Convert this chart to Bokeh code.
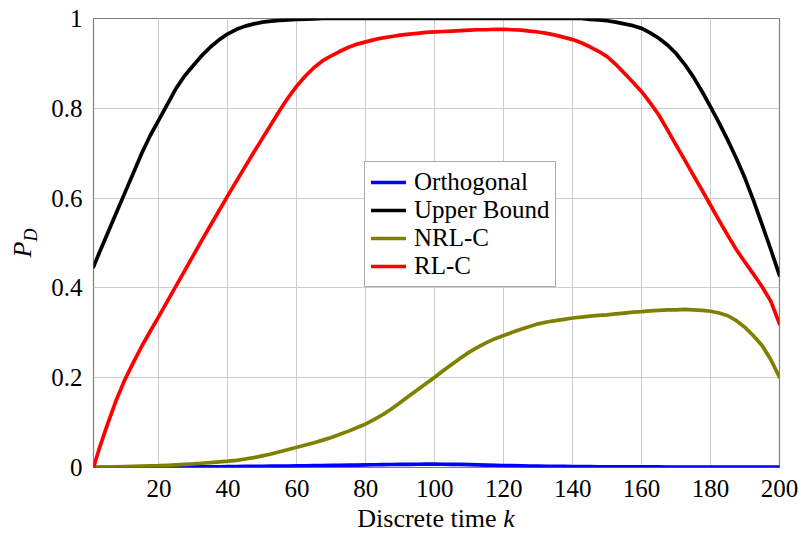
from bokeh.plotting import figure
from bokeh.models import FixedTicker, Range1d, Div
from bokeh.layouts import row, column
from bokeh.embed import file_html
from bokeh.resources import INLINE

# ---- data ----
k = [1, 2.5, 5, 7.5, 10, 12.5, 15, 17.5, 20,
     22.5, 25, 27.5, 30, 32.5, 35, 37.5, 40,
     42.5, 45, 47.5, 50, 52.5, 55, 57.5, 60,
     62.5, 65, 67.5, 70, 72.5, 75, 77.5, 80,
     82.5, 85, 87.5, 90, 92.5, 95, 97.5, 100,
     102.5, 105, 107.5, 110, 112.5, 115, 117.5, 120,
     122.5, 125, 127.5, 130, 132.5, 135, 137.5, 140,
     142.5, 145, 147.5, 150, 152.5, 155, 157.5, 160,
     162.5, 165, 167.5, 170, 172.5, 175, 177.5, 180,
     182.5, 185, 187.5, 190, 192.5, 195, 197.5, 200]

orthogonal = [0.0, 0.0001, 0.0003, 0.0004, 0.0005, 0.0006, 0.0007, 0.0008, 0.0009,
              0.0010, 0.0011, 0.0012, 0.0013, 0.0014, 0.0016, 0.0017, 0.0019,
              0.0021, 0.0023, 0.0025, 0.0027, 0.0029, 0.0031, 0.0033, 0.0036,
              0.0038, 0.0041, 0.0043, 0.0046, 0.0049, 0.0052, 0.0055, 0.0058,
              0.0061, 0.0064, 0.0067, 0.0069, 0.0071, 0.0072, 0.0073, 0.0073,
              0.0072, 0.0071, 0.0068, 0.0065, 0.0060, 0.0055, 0.0050, 0.0045,
              0.0041, 0.0037, 0.0033, 0.0030, 0.0027, 0.0025, 0.0023, 0.0021,
              0.0019, 0.0018, 0.0017, 0.0016, 0.0015, 0.0014, 0.0013, 0.0013,
              0.0012, 0.0012, 0.0011, 0.0011, 0.0010, 0.0010, 0.0010, 0.0010,
              0.0009, 0.0009, 0.0009, 0.0009, 0.0009, 0.0009, 0.0009, 0.0009]

upper_bound = [0.447, 0.475, 0.520, 0.565, 0.610, 0.655, 0.700, 0.740, 0.775,
               0.810, 0.845, 0.873, 0.896, 0.918, 0.937, 0.953, 0.966,
               0.976, 0.983, 0.988, 0.992, 0.994, 0.996, 0.997, 0.998,
               0.9985, 0.999, 1.0, 1.0, 1.0, 1.0, 1.0, 1.0,
               1.0, 1.0, 1.0, 1.0, 1.0, 1.0, 1.0, 1.0,
               1.0, 1.0, 1.0, 1.0, 1.0, 1.0, 1.0, 1.0,
               1.0, 1.0, 1.0, 1.0, 1.0, 1.0, 1.0, 1.0,
               1.0, 0.998, 0.997, 0.995, 0.992, 0.988, 0.984, 0.978,
               0.968, 0.956, 0.941, 0.922, 0.898, 0.870, 0.838, 0.803,
               0.767, 0.729, 0.688, 0.644, 0.594, 0.540, 0.485, 0.428]

nrl_c = [0.0, 0.0005, 0.001, 0.0015, 0.002, 0.0025, 0.003, 0.0035, 0.004,
         0.005, 0.006, 0.007, 0.008, 0.0095, 0.011, 0.0125, 0.014,
         0.016, 0.019, 0.022, 0.026, 0.030, 0.035, 0.040, 0.045,
         0.050, 0.055, 0.061, 0.067, 0.074, 0.081, 0.089, 0.097,
         0.107, 0.118, 0.131, 0.145, 0.159, 0.173, 0.187, 0.201,
         0.216, 0.230, 0.244, 0.257, 0.268, 0.278, 0.287, 0.294,
         0.301, 0.308, 0.314, 0.320, 0.324, 0.327, 0.330, 0.333,
         0.335, 0.337, 0.339, 0.340, 0.342, 0.344, 0.346, 0.347,
         0.349, 0.350, 0.351, 0.351, 0.352, 0.351, 0.350, 0.348,
         0.344, 0.338, 0.327, 0.312, 0.293, 0.271, 0.240, 0.201]

rl_c = [0.0, 0.038, 0.095, 0.148, 0.194, 0.233, 0.270, 0.304, 0.337,
        0.371, 0.405, 0.439, 0.473, 0.507, 0.540, 0.573, 0.606,
        0.638, 0.670, 0.702, 0.733, 0.764, 0.795, 0.824, 0.850,
        0.872, 0.891, 0.906, 0.917, 0.927, 0.936, 0.943, 0.948,
        0.953, 0.957, 0.960, 0.963, 0.965, 0.967, 0.969, 0.970,
        0.971, 0.972, 0.973, 0.974, 0.975, 0.975, 0.976, 0.976,
        0.975, 0.974, 0.972, 0.970, 0.967, 0.963, 0.958, 0.953,
        0.946, 0.937, 0.927, 0.915, 0.898, 0.878, 0.858, 0.837,
        0.812, 0.785, 0.752, 0.718, 0.685, 0.651, 0.618, 0.584,
        0.550, 0.517, 0.485, 0.457, 0.430, 0.402, 0.370, 0.320]

x_ticks = [20, 40, 60, 80, 100, 120, 140, 160, 180, 200]
y_ticks = [0, 0.2, 0.4, 0.6, 0.8, 1]

FONT = "Liberation Serif"

p = figure(width=761, height=502, output_backend="svg", toolbar_location=None,
           x_range=Range1d(1, 200), y_range=Range1d(0, 1),
           min_border_left=53, min_border_right=22, min_border_top=18, min_border_bottom=35)
p.margin = 0

p.background_fill_color = "white"
p.border_fill_color = "white"
p.outline_line_color = "#808080"
p.outline_line_width = 1.2

for ax in (p.xaxis[0], p.yaxis[0]):
    ax.axis_line_color = None
    ax.major_tick_line_color = None
    ax.minor_tick_line_color = None
    ax.major_label_text_font = FONT
    ax.major_label_text_font_size = "25px"
    ax.major_label_text_color = "black"

p.xaxis.ticker = FixedTicker(ticks=x_ticks)
p.yaxis.ticker = FixedTicker(ticks=y_ticks)
p.yaxis.major_label_overrides = {0: "0", 1: "1"}
p.xaxis.major_label_standoff = 6
p.yaxis.major_label_standoff = 5

p.xgrid.ticker = FixedTicker(ticks=x_ticks)
p.ygrid.ticker = FixedTicker(ticks=y_ticks)
for g in (p.xgrid[0], p.ygrid[0]):
    g.grid_line_color = "#cccccc"
    g.grid_line_width = 1

lw = 3.7
common = dict(line_width=lw, line_join="round", line_cap="round")
p.line(k, orthogonal, line_color="#0000ff", legend_label="Orthogonal", **common)
p.line(k, upper_bound, line_color="black", legend_label="Upper Bound", **common)
p.line(k, nrl_c, line_color="#808000", legend_label="NRL-C", **common)
p.line(k, rl_c, line_color="#ff0000", legend_label="RL-C", **common)

lg = p.legend[0]
lg.location = (271, 180)
lg.label_text_font = FONT
lg.label_text_font_size = "25px"
lg.label_text_color = "black"
lg.glyph_width = 35
lg.glyph_height = 20
lg.label_height = 20
lg.label_standoff = 8
lg.spacing = 0
lg.padding = 6
lg.margin = 0
lg.border_line_color = "#555555"
lg.border_line_width = 1
lg.background_fill_alpha = 1.0

# axis titles as HTML text (italic variables, subscript)
FONT_CSS = "font-family:&quot;Liberation Serif&quot;, serif;"
ylab = Div(width=40, height=502, margin=0, text=(
    '<div style="position:relative;width:40px;height:502px;">'
    '<div style="position:absolute;left:25px;top:243px;transform:translate(-50%,-50%) rotate(-90deg);'
    'white-space:nowrap;' + FONT_CSS + 'font-size:26px;color:black;line-height:1;">'
    '<i>P</i><sub style="font-size:18px;"><i>D</i></sub></div></div>'))

xlab = Div(width=801, height=32, margin=0, text=(
    '<div style="position:relative;width:801px;height:32px;">'
    '<div style="position:absolute;left:436px;top:17px;transform:translate(-50%,-50%);'
    'white-space:nowrap;' + FONT_CSS + 'font-size:26px;color:black;line-height:1;">'
    'Discrete time <i>k</i></div></div>'))

layout = column(row(ylab, p, spacing=0, margin=0), xlab, spacing=0, margin=0)

open("out.html", "w").write(file_html(layout, INLINE))
